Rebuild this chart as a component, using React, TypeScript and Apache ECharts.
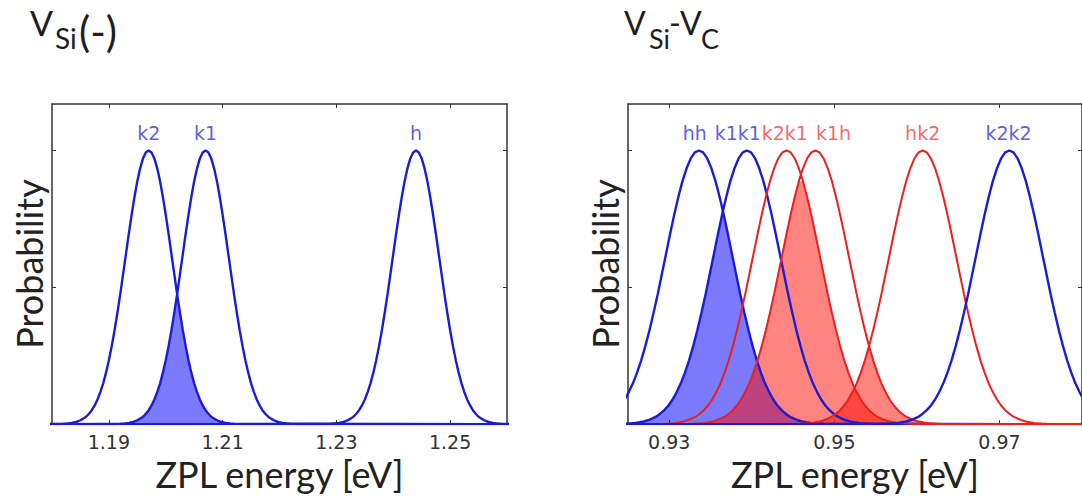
import React, { useEffect, useRef } from "react";
import * as echarts from "echarts";

// Shape of one ZPL peak (normalised probability vs. offset from the peak centre, eV)
const PROFILE_OFFSETS = [
  0, 0.0005, 0.001, 0.0015, 0.002, 0.0025, 0.003, 0.0035, 0.004, 0.0045, 0.005, 0.0055, 0.006, 0.0065,
  0.007, 0.0075, 0.008, 0.0085, 0.009, 0.0095, 0.01, 0.0105, 0.011, 0.0115, 0.012, 0.0125, 0.013,
  0.0135, 0.014, 0.0145, 0.015, 0.0155, 0.016, 0.0165, 0.017, 0.0175, 0.018, 0.06,
];
const PROFILE_HEIGHTS = [
  1, 0.993, 0.971, 0.935, 0.888, 0.83, 0.765, 0.695, 0.621, 0.548, 0.475, 0.407, 0.343, 0.285,
  0.233, 0.188, 0.149, 0.117, 0.09, 0.068, 0.051, 0.038, 0.027, 0.02, 0.014, 0.0096, 0.0066,
  0.0044, 0.0029, 0.0019, 0.0012, 0.0008, 0.0005, 0.0003, 0.0002, 0.0001, 0.0001, 0,
];

// Left panel: V_Si(-)
const LEFT_PEAKS = ["k2", "k1", "h"];
const LEFT_CENTERS = [1.197, 1.207, 1.244];
const LEFT_LABEL_X = [1.197, 1.207, 1.244];
const LEFT_COLORS = ["blue", "blue", "blue"];
const LEFT_FILLS = [["k2", "k1"]];
const LEFT_X_MIN = 1.18;
const LEFT_X_MAX = 1.26;
const LEFT_X_TICKS = [1.19, 1.21, 1.23, 1.25];

// Right panel: V_Si-V_C
const RIGHT_PEAKS = ["hh", "k1k1", "k2k1", "k1h", "hk2", "k2k2"];
const RIGHT_CENTERS = [0.9336, 0.9394, 0.9442, 0.9477, 0.9607, 0.9712];
const RIGHT_LABEL_X = [0.9331, 0.9383, 0.944, 0.9499, 0.9607, 0.9711];
const RIGHT_COLORS = ["blue", "blue", "red", "red", "red", "blue"];
const RIGHT_FILLS = [
  ["hh", "k1k1"],
  ["k2k1", "k1h"],
  ["k1h", "hk2"],
];
const RIGHT_X_MIN = 0.925;
const RIGHT_X_MAX = 0.98;
const RIGHT_X_TICKS = [0.93, 0.95, 0.97];

const Y_MIN = 0;
const Y_MAX = 1.17;
const Y_TICKS = [0, 0.5, 1];
const LABEL_Y = 1.065;

const PALETTE: Record<string, { line: string; fill: string; label: string }> = {
  blue: { line: "#1c1cd4", fill: "rgba(0,0,245,0.52)", label: "#3434d6" },
  red: { line: "#ea2020", fill: "rgba(255,10,0,0.5)", label: "#ee4444" },
};

const AXIS_COLOR = "#333";
const TITLE_FONT = "Lato";
const TICK_FONT = "DejaVu Sans";

function fullProfile(): [number, number][] {
  const out: [number, number][] = [];
  for (let i = PROFILE_OFFSETS.length - 1; i > 0; i--) out.push([-PROFILE_OFFSETS[i], PROFILE_HEIGHTS[i]]);
  for (let i = 0; i < PROFILE_OFFSETS.length; i++) out.push([PROFILE_OFFSETS[i], PROFILE_HEIGHTS[i]]);
  return out;
}

function peakPoints(center: number): [number, number][] {
  return fullProfile().map(([o, h]) => [center + o, h]);
}

// lower envelope of two peaks (the region under both curves)
function envelope(ca: number, cb: number): [number, number][] {
  const lo = Math.min(ca, cb);
  const hi = Math.max(ca, cb);
  const mid = (lo + hi) / 2;
  const left = peakPoints(hi).filter((p) => p[0] <= mid + 1e-9);
  const right = peakPoints(lo).filter((p) => p[0] >= mid - 1e-9);
  return [...left, ...right];
}

function panelSeries(
  names: string[],
  centers: number[],
  labelX: number[],
  colors: string[],
  fills: string[][],
  axisIndex: number
) {
  const series: any[] = [];
  fills.forEach(([a, b]) => {
    const ia = names.indexOf(a);
    const ib = names.indexOf(b);
    series.push({
      type: "line",
      xAxisIndex: axisIndex,
      yAxisIndex: axisIndex,
      data: envelope(centers[ia], centers[ib]),
      showSymbol: false,
      symbol: "none",
      lineStyle: { width: 0, opacity: 0 },
      areaStyle: { color: PALETTE[colors[ia]].fill, opacity: 1 },
      z: 1,
      silent: true,
    });
  });
  names.forEach((n, i) => {
    series.push({
      type: "line",
      name: n,
      xAxisIndex: axisIndex,
      yAxisIndex: axisIndex,
      data: peakPoints(centers[i]),
      showSymbol: false,
      symbol: "none",
      lineStyle: { width: colors[i] === "blue" ? 2.4 : 2, color: PALETTE[colors[i]].line },
      z: 2,
      silent: true,
    });
  });
  series.push({
    type: "scatter",
    xAxisIndex: axisIndex,
    yAxisIndex: axisIndex,
    symbolSize: 2,
    itemStyle: { color: "rgba(0,0,0,0)" },
    silent: true,
    z: 3,
    data: names.map((n, i) => ({
      name: n,
      value: [labelX[i], LABEL_Y],
      label: { color: PALETTE[colors[i]].label },
    })),
    label: {
      show: true,
      position: "inside",
      formatter: "{b}",
      fontFamily: TICK_FONT,
      fontSize: 19,
    },
  });
  return series;
}

function xAxes(gridIndex: number, min: number, max: number, ticks: number[]) {
  const common = {
    type: "value",
    gridIndex,
    min,
    max,
    splitLine: { show: false },
    axisLine: { show: true, onZero: false, lineStyle: { color: AXIS_COLOR, width: 1.5 } },
    axisTick: { show: true, inside: true, length: 4, customValues: ticks, lineStyle: { color: AXIS_COLOR } },
  };
  return [
    {
      ...common,
      position: "bottom",
      name: "ZPL energy [eV]",
      nameLocation: "middle",
      nameGap: 28,
      nameTextStyle: { fontFamily: TITLE_FONT, fontSize: 36, color: "#222" },
      axisLabel: {
        show: true,
        customValues: ticks,
        margin: 8,
        fontFamily: TICK_FONT,
        fontSize: 19,
        color: "#333",
        formatter: (v: number) => v.toFixed(2),
      },
    },
    { ...common, position: "top", axisLabel: { show: false } },
  ];
}

function yAxes(gridIndex: number) {
  const common = {
    type: "value",
    gridIndex,
    min: Y_MIN,
    max: Y_MAX,
    splitLine: { show: false },
    axisLabel: { show: false },
    axisLine: { show: true, onZero: false, lineStyle: { color: AXIS_COLOR, width: 1.5 } },
    axisTick: { show: true, inside: true, length: 4, customValues: Y_TICKS, lineStyle: { color: AXIS_COLOR } },
  };
  return [
    {
      ...common,
      position: "left",
      name: "Probability",
      nameLocation: "middle",
      nameGap: 5,
      nameTextStyle: { fontFamily: TITLE_FONT, fontSize: 36, color: "#222" },
    },
    { ...common, position: "right" },
  ];
}

function titleText(text: string, x: number, y: number, size: number) {
  return {
    type: "text",
    x,
    y,
    silent: true,
    style: {
      text,
      fontFamily: TITLE_FONT,
      fontSize: size,
      fill: "#1e1e1e",
      align: "left",
      verticalAlign: "middle",
    },
  };
}

function buildOption(): any {
  const lx = xAxes(0, LEFT_X_MIN, LEFT_X_MAX, LEFT_X_TICKS);
  const rx = xAxes(1, RIGHT_X_MIN, RIGHT_X_MAX, RIGHT_X_TICKS);
  const ly = yAxes(0);
  const ry = yAxes(1);
  return {
    animation: false,
    backgroundColor: "#ffffff",
    grid: [
      { left: 52, top: 104, width: 455, height: 333 },
      { left: 628, top: 104, width: 458, height: 333 },
    ],
    // axis order: 0 = left bottom, 1 = left top, 2 = right bottom, 3 = right top
    xAxis: [lx[0], lx[1], rx[0], rx[1]],
    yAxis: [ly[0], ly[1], ry[0], ry[1]],
    series: [
      ...panelSeries(LEFT_PEAKS, LEFT_CENTERS, LEFT_LABEL_X, LEFT_COLORS, LEFT_FILLS, 0),
      ...panelSeries(RIGHT_PEAKS, RIGHT_CENTERS, RIGHT_LABEL_X, RIGHT_COLORS, RIGHT_FILLS, 2),
    ],
    graphic: [
      titleText("V", 30, 22, 34),
      titleText("Si", 55, 38, 28),
      titleText("(-)", 79, 31, 42),
      titleText("V", 624, 22, 32),
      titleText("Si", 649, 38, 27),
      titleText("-V", 669, 22, 32),
      titleText("C", 701, 38, 27),
    ],
  };
}

export default function App() {
  const ref = useRef<HTMLDivElement>(null);
  useEffect(() => {
    document.body.style.margin = "0";
    const chart = echarts.init(ref.current as HTMLDivElement, null, { renderer: "svg" });
    chart.setOption(buildOption());
    return () => chart.dispose();
  }, []);
  return <div ref={ref} style={{ width: 1082, height: 497, overflow: "hidden" }} />;
}
